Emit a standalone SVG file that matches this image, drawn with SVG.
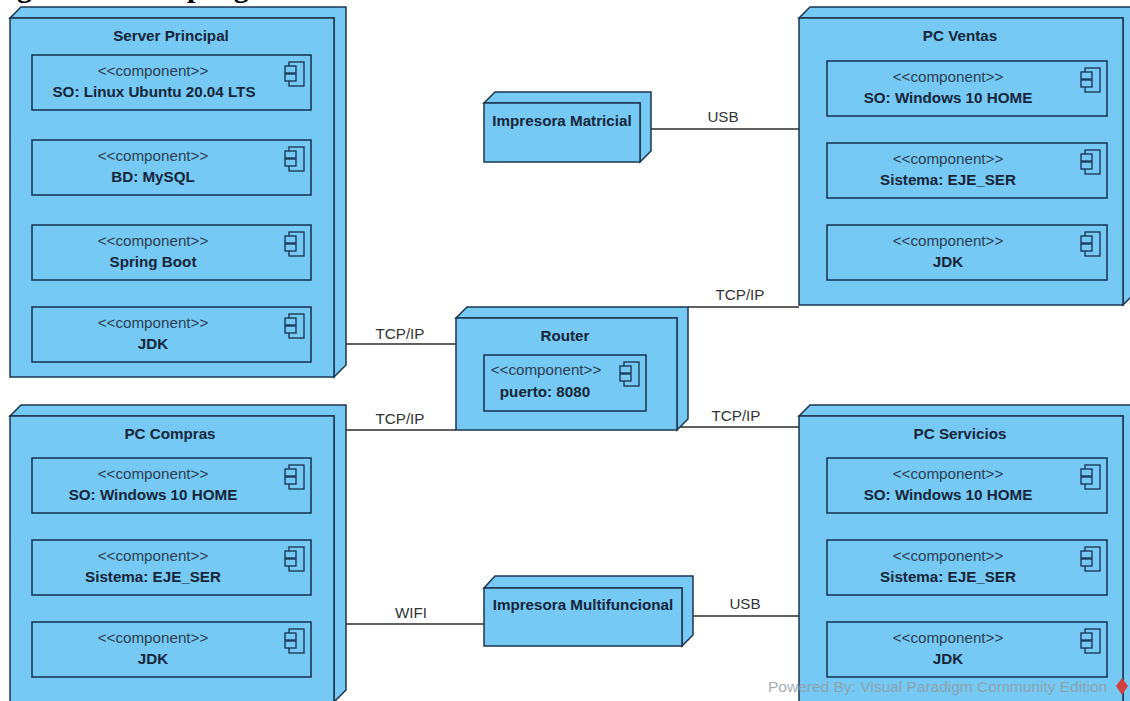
<svg xmlns="http://www.w3.org/2000/svg" width="1130" height="701" viewBox="0 0 1130 701">
<style>
text{font-family:"Liberation Sans",Arial,sans-serif;font-size:15.2px;text-anchor:middle}
.title{font-family:"Liberation Serif","Times New Roman",serif;font-size:30px;font-weight:bold;fill:#000;text-anchor:start}
.front{fill:#76c9f3;stroke:#1c3550;stroke-width:1.5}
.side{fill:#76c9f3;stroke:#1c3550;stroke-width:1.5;stroke-linejoin:miter}
.comp{fill:#76c9f3;stroke:#14304f;stroke-width:1.5}
.ico{fill:#76c9f3;stroke:#14304f;stroke-width:1.3}
.st{fill:#2a3f55}
.nm{fill:#14263c;font-weight:bold}
.lbl{fill:#333}
.wire{stroke:#2b2b2b;stroke-width:1.3;fill:none}
.wm{fill:#8f9aa3;font-size:15.5px;text-anchor:start;opacity:.8}
</style>
<defs>
<g id="compIcon">
<rect class="ico" x="-22" y="7" width="15" height="24"/>
<rect class="ico" x="-26" y="11" width="11" height="7"/>
<rect class="ico" x="-26" y="19" width="11" height="7"/>
</g>
</defs>
<text class="title" x="-28" y="-3">Diagrama de despliegue</text>
<g id="connectors">
<path class="wire" d="M346 344H456"/>
<path class="wire" d="M346 430H456"/>
<path class="wire" d="M688 307H799"/>
<path class="wire" d="M677 427H799"/>
<path class="wire" d="M651 129H799"/>
<path class="wire" d="M346 624H484"/>
<path class="wire" d="M693 616H799"/>
<text class="lbl" x="400" y="339">TCP/IP</text>
<text class="lbl" x="400" y="424">TCP/IP</text>
<text class="lbl" x="740" y="300">TCP/IP</text>
<text class="lbl" x="736" y="421">TCP/IP</text>
<text class="lbl" x="723" y="122">USB</text>
<text class="lbl" x="411" y="618">WIFI</text>
<text class="lbl" x="745" y="609">USB</text>
</g>
<g id="server-principal">
<path class="side" d="M10 18L21 7H346V365L334 377V18Z"/>
<rect class="front" x="10" y="18" width="324" height="359"/>
<text class="nm" x="171" y="41">Server Principal</text>
<g id="sp-so"><rect class="comp" x="32" y="55" width="279" height="55"/><use href="#compIcon" x="311" y="55"/><text class="st" x="153" y="76">&lt;&lt;component&gt;&gt;</text><text class="nm" x="154" y="97">SO: Linux Ubuntu 20.04 LTS</text></g>
<g id="sp-bd"><rect class="comp" x="32" y="140" width="279" height="55"/><use href="#compIcon" x="311" y="140"/><text class="st" x="153" y="161">&lt;&lt;component&gt;&gt;</text><text class="nm" x="153" y="182">BD: MySQL</text></g>
<g id="sp-spring"><rect class="comp" x="32" y="225" width="279" height="55"/><use href="#compIcon" x="311" y="225"/><text class="st" x="153" y="246">&lt;&lt;component&gt;&gt;</text><text class="nm" x="153" y="267">Spring Boot</text></g>
<g id="sp-jdk"><rect class="comp" x="32" y="307" width="279" height="55"/><use href="#compIcon" x="311" y="307"/><text class="st" x="153" y="328">&lt;&lt;component&gt;&gt;</text><text class="nm" x="153" y="349">JDK</text></g>
</g>
<g id="pc-compras">
<path class="side" d="M10 416L21 405H346V690L334 702V416Z"/>
<path class="front" d="M10 702V416H334V702"/>
<text class="nm" x="170" y="439">PC Compras</text>
<g id="pcc-so"><rect class="comp" x="32" y="458" width="279" height="55"/><use href="#compIcon" x="311" y="458"/><text class="st" x="153" y="479">&lt;&lt;component&gt;&gt;</text><text class="nm" x="153" y="500">SO: Windows 10 HOME</text></g>
<g id="pcc-sis"><rect class="comp" x="32" y="540" width="279" height="55"/><use href="#compIcon" x="311" y="540"/><text class="st" x="153" y="561">&lt;&lt;component&gt;&gt;</text><text class="nm" x="153" y="582">Sistema: EJE_SER</text></g>
<g id="pcc-jdk"><rect class="comp" x="32" y="622" width="279" height="55"/><use href="#compIcon" x="311" y="622"/><text class="st" x="153" y="643">&lt;&lt;component&gt;&gt;</text><text class="nm" x="153" y="664">JDK</text></g>
</g>
<g id="router">
<path class="side" d="M456 318L467 307H688V419L677 430V318Z"/>
<rect class="front" x="456" y="318" width="221" height="112"/>
<text class="nm" x="565" y="341">Router</text>
<g id="r-puerto"><rect class="comp" x="484" y="355" width="162" height="56"/><use href="#compIcon" x="646" y="355"/><text class="st" x="546" y="375">&lt;&lt;component&gt;&gt;</text><text class="nm" x="545" y="397">puerto: 8080</text></g>
</g>
<g id="impresora-matricial">
<path class="side" d="M484 103L495 92H651V151L640 162V103Z"/>
<rect class="front" x="484" y="103" width="156" height="59"/>
<text class="nm" x="562" y="126">Impresora Matricial</text>
</g>
<g id="impresora-multifuncional">
<path class="side" d="M484 588L495 576H693V635L682 646V588Z"/>
<rect class="front" x="484" y="588" width="198" height="58"/>
<text class="nm" x="583" y="610">Impresora Multifuncional</text>
</g>
<g id="pc-ventas">
<path class="side" d="M799 18L810 7H1134V294L1123 305V18Z"/>
<rect class="front" x="799" y="18" width="324" height="287"/>
<text class="nm" x="960" y="41">PC Ventas</text>
<g id="pcv-so"><rect class="comp" x="827" y="61" width="280" height="55"/><use href="#compIcon" x="1107" y="61"/><text class="st" x="948" y="82">&lt;&lt;component&gt;&gt;</text><text class="nm" x="948" y="103">SO: Windows 10 HOME</text></g>
<g id="pcv-sis"><rect class="comp" x="827" y="143" width="280" height="55"/><use href="#compIcon" x="1107" y="143"/><text class="st" x="948" y="164">&lt;&lt;component&gt;&gt;</text><text class="nm" x="948" y="185">Sistema: EJE_SER</text></g>
<g id="pcv-jdk"><rect class="comp" x="827" y="225" width="280" height="55"/><use href="#compIcon" x="1107" y="225"/><text class="st" x="948" y="246">&lt;&lt;component&gt;&gt;</text><text class="nm" x="948" y="267">JDK</text></g>
</g>
<g id="pc-servicios">
<path class="side" d="M799 416L810 405H1134V702H1123V416Z"/>
<path class="front" d="M799 702V416H1123V702"/>
<text class="nm" x="960" y="439">PC Servicios</text>
<g id="pcs-so"><rect class="comp" x="827" y="458" width="280" height="55"/><use href="#compIcon" x="1107" y="458"/><text class="st" x="948" y="479">&lt;&lt;component&gt;&gt;</text><text class="nm" x="948" y="500">SO: Windows 10 HOME</text></g>
<g id="pcs-sis"><rect class="comp" x="827" y="540" width="280" height="55"/><use href="#compIcon" x="1107" y="540"/><text class="st" x="948" y="561">&lt;&lt;component&gt;&gt;</text><text class="nm" x="948" y="582">Sistema: EJE_SER</text></g>
<g id="pcs-jdk"><rect class="comp" x="827" y="622" width="280" height="55"/><use href="#compIcon" x="1107" y="622"/><text class="st" x="948" y="643">&lt;&lt;component&gt;&gt;</text><text class="nm" x="948" y="664">JDK</text></g>
</g>
<g id="watermark">
<text class="wm" x="768" y="692">Powered By:  Visual Paradigm Community Edition</text>
<path d="M1122 678L1128 686L1122 695L1116 686Z" fill="#d2403f"/>
</g>
</svg>
